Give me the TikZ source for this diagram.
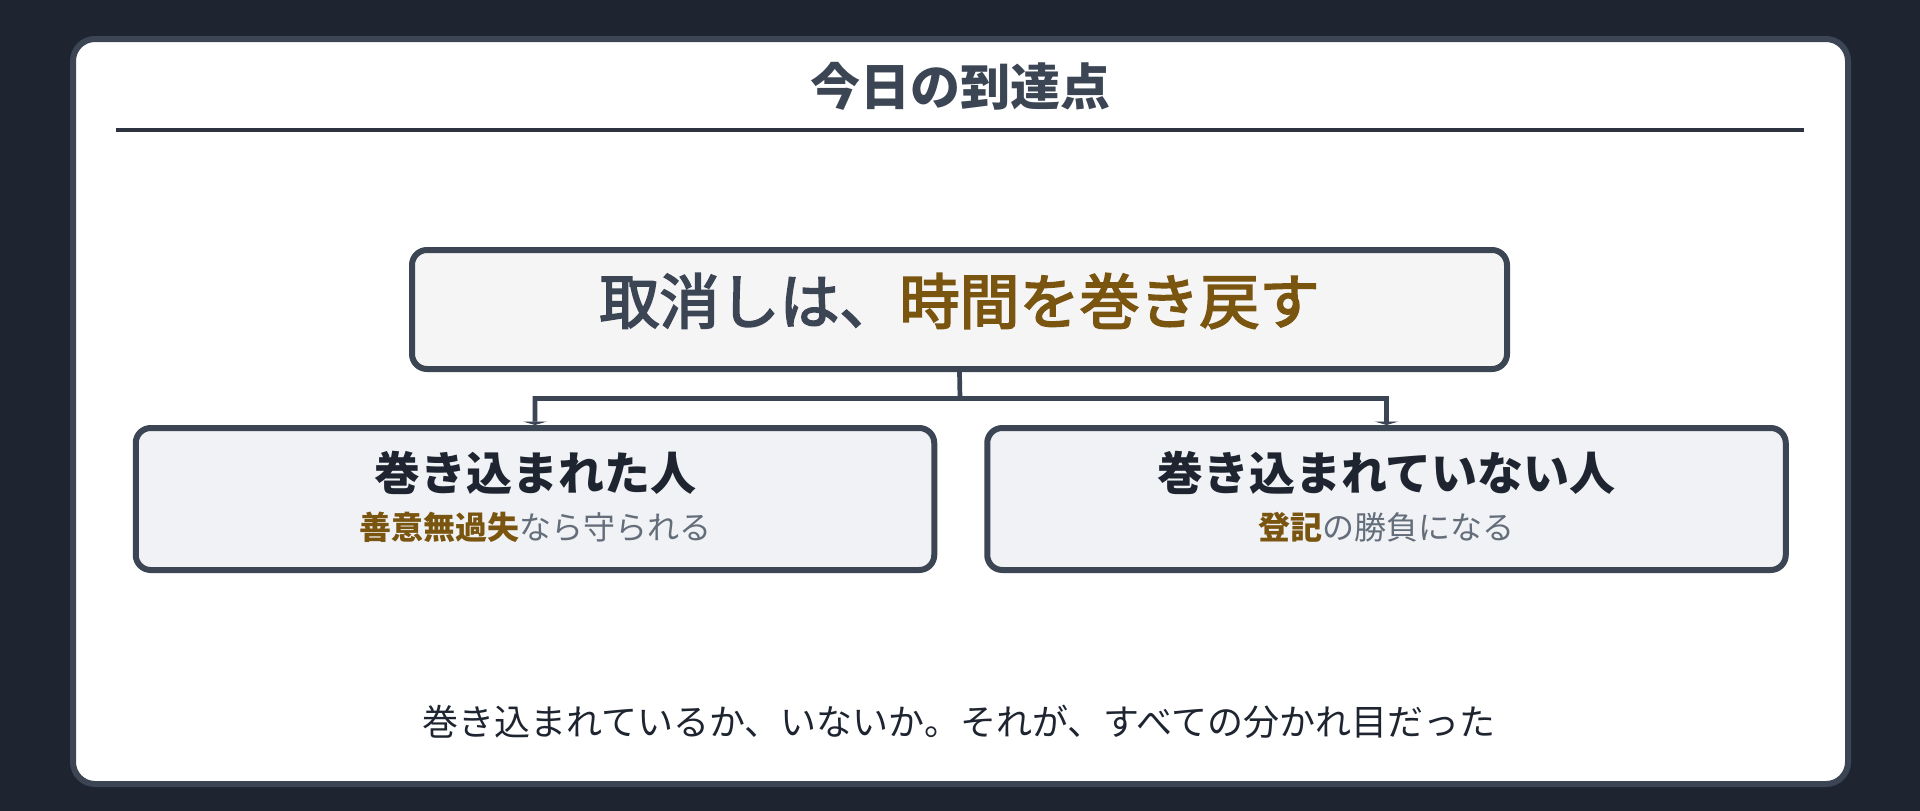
\documentclass[tikz,border=0pt]{standalone}
\usepackage{fontspec}
\setmainfont{Noto Sans CJK JP}
\newcommand\medtext[1]{\special{pdf:literal 2 Tr 1.8 w}#1\special{pdf:literal 0 Tr}}
\usetikzlibrary{arrows.meta}
\definecolor{bgdark}{HTML}{1E2530}
\definecolor{slate}{HTML}{3B4554}
\definecolor{rulec}{HTML}{2D333F}
\definecolor{brown}{HTML}{7A5510}
\definecolor{inkdark}{HTML}{1E2530}
\definecolor{subgray}{HTML}{646D7A}
\definecolor{boxa}{HTML}{F5F5F5}
\definecolor{boxb}{HTML}{F0F2F5}
\begin{document}
\begin{tikzpicture}[x=1pt,y=-1pt,
  mainbox/.style={draw=slate,line width=6pt,fill=boxa,rounded corners=15pt,inner sep=0pt,minimum width=1095pt,minimum height=119pt},
  childbox/.style={draw=slate,line width=6pt,fill=boxb,rounded corners=15pt,inner sep=0pt,minimum width=798.5pt,minimum height=142pt},
  txt/.style={inner sep=0pt,anchor=center},
  conn/.style={draw=slate,line width=4.7pt,line join=miter,-{Triangle[width=24pt,length=3.5pt]}}
]
\useasboundingbox (0,0) rectangle (1920,811);
\fill[bgdark] (0,0) rectangle (1920,811);
\draw[slate,line width=6pt,fill=white,rounded corners=22pt] (73,39) rectangle (1848,784);

\node[txt,text=slate] (title) at (960,86) {\fontsize{50pt}{60pt}\selectfont\bfseries 今日の到達点};
\coordinate (rl) at (116,130);
\coordinate (rr) at (1804,130);
\draw[rulec,line width=3.4pt] (rl) -- (rr);

\node[mainbox] (top) at (959.5,309.5) {};
\node[txt] (toptext) at (959.5,301) {\fontsize{60pt}{70pt}\selectfont\textcolor{slate}{\medtext{取消しは、}}\textcolor{brown}{\medtext{時間を巻き戻す}}};

\node[childbox] (left) at (535,499) {};
\node[childbox] (right) at (1386.5,499) {};

\node[txt,text=inkdark] (lt) at (535,473) {\fontsize{46pt}{56pt}\selectfont\bfseries 巻き込まれた人};
\node[txt] (ls) at (535,527) {\fontsize{32pt}{40pt}\selectfont\textcolor{brown}{\bfseries 善意無過失}\textcolor{subgray}{なら守られる}};
\node[txt,text=inkdark] (rt) at (1386.5,473) {\fontsize{46pt}{56pt}\selectfont\bfseries 巻き込まれていない人};
\node[txt] (rs) at (1386.5,527) {\fontsize{32pt}{40pt}\selectfont\textcolor{brown}{\bfseries 登記}\textcolor{subgray}{の勝負になる}};

\coordinate (jn) at (960,398.5);
\draw[conn] (top.south) -- (jn) -| (left.north);
\draw[conn] (jn) -| (right.north);

\node[txt,text=inkdark] (bottom) at (959,722) {\fontsize{36pt}{44pt}\selectfont 巻き込まれているか、いないか。それが、すべての分かれ目だった};
\end{tikzpicture}
\end{document}
